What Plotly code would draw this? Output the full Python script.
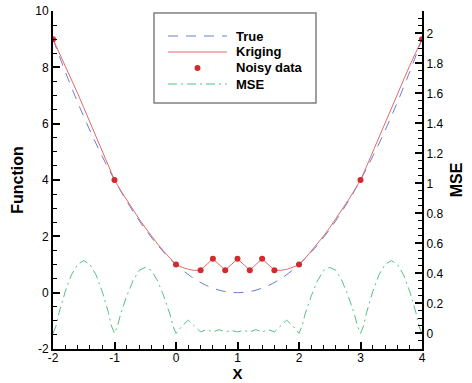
import plotly.graph_objects as go

# ---------------- data ----------------
x_true = [-2.0, -1.75, -1.5, -1.25, -1.0, -0.75, -0.5, -0.25, 0.0, 0.25, 0.5, 0.75, 1.0,
          1.25, 1.5, 1.75, 2.0, 2.25, 2.5, 2.75, 3.0, 3.25, 3.5, 3.75, 4.0]
y_true = [9.0, 7.5625, 6.25, 5.0625, 4.0, 3.0625, 2.25, 1.5625, 1.0, 0.5625, 0.25, 0.0625, 0.0,
          0.0625, 0.25, 0.5625, 1.0, 1.5625, 2.25, 3.0625, 4.0, 5.0625, 6.25, 7.5625, 9.0]

x_krig = [-2.0, -1.9, -1.8, -1.7, -1.6, -1.5, -1.4, -1.3, -1.2, -1.1,
          -1.0, -0.9, -0.8, -0.7, -0.6, -0.5, -0.4, -0.3, -0.2, -0.1,
          0.0, 0.1, 0.2, 0.3, 0.4, 0.6, 0.8, 1.0, 1.2, 1.4, 1.6, 1.7, 1.8, 1.9,
          2.0, 2.1, 2.2, 2.3, 2.4, 2.5, 2.6, 2.7, 2.8, 2.9,
          3.0, 3.1, 3.2, 3.3, 3.4, 3.5, 3.6, 3.7, 3.8, 3.9, 4.0]
y_krig = [9.0, 8.53, 8.06, 7.57, 7.08, 6.57, 6.05, 5.52, 5.00, 4.49,
          4.0, 3.63, 3.28, 2.94, 2.62, 2.31, 2.01, 1.73, 1.47, 1.22,
          1.0, 0.90, 0.83, 0.79, 0.8, 1.2, 0.8, 1.2, 0.8, 1.2, 0.8, 0.79, 0.83, 0.90,
          1.0, 1.22, 1.47, 1.73, 2.01, 2.31, 2.62, 2.94, 3.28, 3.63,
          4.0, 4.49, 5.00, 5.52, 6.05, 6.57, 7.08, 7.57, 8.06, 8.53, 9.0]

x_data = [-2.0, -1.0, 0.0, 0.4, 0.6, 0.8, 1.0, 1.2, 1.4, 1.6, 2.0, 3.0, 4.0]
y_data = [9.0, 4.0, 1.0, 0.8, 1.2, 0.8, 1.2, 0.8, 1.2, 0.8, 1.0, 4.0, 9.0]

x_mse = [-2.0, -1.95, -1.9, -1.8, -1.7, -1.6, -1.5, -1.4, -1.3, -1.2, -1.1, -1.05,
         -1.0, -0.95, -0.9, -0.8, -0.7, -0.6, -0.5, -0.4, -0.3, -0.2, -0.1, -0.05,
         0.0, 0.1, 0.2, 0.3, 0.4, 0.5, 0.6, 0.7, 0.8, 0.9, 1.0, 1.1, 1.2, 1.3, 1.4, 1.5,
         1.6, 1.7, 1.8, 1.9, 2.0,
         2.05, 2.1, 2.2, 2.3, 2.4, 2.5, 2.6, 2.7, 2.8, 2.9, 2.95,
         3.0, 3.05, 3.1, 3.2, 3.3, 3.4, 3.5, 3.6, 3.7, 3.8, 3.9, 3.95, 4.0]
y_mse = [0.0, 0.05, 0.14, 0.28, 0.39, 0.46, 0.485, 0.46, 0.39, 0.28, 0.14, 0.05,
         0.0, 0.05, 0.13, 0.25, 0.35, 0.42, 0.44, 0.42, 0.35, 0.25, 0.13, 0.05,
         0.0, 0.05, 0.088, 0.05, 0.01, 0.025, 0.01, 0.025, 0.01, 0.02, 0.01, 0.02, 0.01, 0.025, 0.01, 0.025,
         0.01, 0.05, 0.088, 0.05, 0.0,
         0.05, 0.13, 0.25, 0.35, 0.42, 0.44, 0.42, 0.35, 0.25, 0.13, 0.05,
         0.0, 0.05, 0.14, 0.28, 0.39, 0.46, 0.485, 0.46, 0.39, 0.28, 0.14, 0.05, 0.0]

x_ticks = [-2, -1, 0, 1, 2, 3, 4]
x_ticktext = ["-2", "-1", "0", "1", "2", "3", "4"]
y_ticks = [-2, 0, 2, 4, 6, 8, 10]
y_ticktext = ["-2", "0", "2", "4", "6", "8", "10"]
y2_ticks = [0, 0.2, 0.4, 0.6, 0.8, 1.0, 1.2, 1.4, 1.6, 1.8, 2.0]
y2_ticktext = ["0", "0.2", "0.4", "0.6", "0.8", "1", "1.2", "1.4", "1.6", "1.8", "2"]

legend_names = ["True", "Kriging", "Noisy data", "MSE"]

FONT = "Liberation Sans, Arial, sans-serif"
C_TRUE, C_KRIG, C_DATA, C_MSE = "#6b7fd0", "#e46a6a", "#d12a2f", "#55c084"
D_TRUE, D_MSE = "10px,8px", "9px,4px,2px,4px"

fig = go.Figure()
fig.add_trace(go.Scatter(x=x_true, y=y_true, mode="lines", name=legend_names[0],
                         line=dict(color=C_TRUE, width=1, dash=D_TRUE, shape="spline")))
fig.add_trace(go.Scatter(x=x_krig, y=y_krig, mode="lines", name=legend_names[1],
                         line=dict(color=C_KRIG, width=1)))
fig.add_trace(go.Scatter(x=x_data, y=y_data, mode="markers", name=legend_names[2],
                         marker=dict(color=C_DATA, size=6)))
fig.add_trace(go.Scatter(x=x_mse, y=y_mse, mode="lines", name=legend_names[3], yaxis="y2",
                         line=dict(color=C_MSE, width=1, dash=D_MSE)))

axis_common = dict(showgrid=False, zeroline=False, showline=True, linecolor="black", linewidth=2,
                   ticks="inside", ticklen=7, tickwidth=2, tickcolor="black", automargin=False,
                   tickfont=dict(family=FONT, size=12, color="black"))

# ---- legend box (drawn in paper coordinates) ----
bx0, bx1, by0, by1 = 0.2737, 0.7127, 0.7278, 0.9941
sx0, sx1, tx = 0.3117, 0.4715, 0.4905
rows = [0.9260, 0.8787, 0.8314, 0.7840]
shapes = [dict(type="rect", xref="paper", yref="paper", x0=bx0, x1=bx1, y0=by0, y1=by1,
               line=dict(color="#808080", width=1.5), fillcolor="white", layer="above")]
shapes.append(dict(type="line", xref="paper", yref="paper", x0=sx0, x1=sx1, y0=rows[0], y1=rows[0],
                   line=dict(color=C_TRUE, width=1, dash=D_TRUE), layer="above"))
shapes.append(dict(type="line", xref="paper", yref="paper", x0=sx0, x1=sx1, y0=rows[1], y1=rows[1],
                   line=dict(color=C_KRIG, width=1), layer="above"))
cx = (sx0 + sx1) / 2
shapes.append(dict(type="circle", xref="paper", yref="paper", x0=cx - 0.0081, x1=cx + 0.0081,
                   y0=rows[2] - 0.0089, y1=rows[2] + 0.0089,
                   line=dict(color=C_DATA, width=0), fillcolor=C_DATA, layer="above"))
shapes.append(dict(type="line", xref="paper", yref="paper", x0=sx0, x1=sx1, y0=rows[3], y1=rows[3],
                   line=dict(color=C_MSE, width=1, dash=D_MSE), layer="above"))
annotations = [dict(xref="paper", yref="paper", x=tx, y=yy, xanchor="left", yanchor="middle",
                    text="<b>%s</b>" % nm, showarrow=False,
                    font=dict(family=FONT, size=13, color="black"))
               for nm, yy in zip(legend_names, rows)]

fig.update_layout(
    width=472, height=383,
    margin=dict(l=53, r=50, t=11, b=34),
    paper_bgcolor="white", plot_bgcolor="white",
    font=dict(family=FONT, color="black"),
    xaxis=dict(range=[-2, 4], tickvals=x_ticks, ticktext=x_ticktext,
               minor=dict(dtick=0.2, ticks="inside", ticklen=4, tickwidth=1, tickcolor="black"),
               ticklabelstandoff=-3,
               title=dict(text="<b>X</b>", font=dict(family=FONT, size=15), standoff=0),
               **axis_common),
    yaxis=dict(range=[-2, 10], tickvals=y_ticks, ticktext=y_ticktext,
               minor=dict(dtick=0.5, ticks="inside", ticklen=4, tickwidth=1, tickcolor="black"),
               title=dict(text="<b>Function</b>", font=dict(family=FONT, size=16), standoff=8),
               **axis_common),
    yaxis2=dict(range=[-0.104, 2.149], overlaying="y", side="right",
                tickvals=y2_ticks, ticktext=y2_ticktext,
                minor=dict(dtick=0.05, ticks="inside", ticklen=4, tickwidth=1, tickcolor="black"),
                title=dict(text="<b>MSE</b>", font=dict(family=FONT, size=16), standoff=8),
                **axis_common),
    shapes=shapes,
    annotations=annotations,
    showlegend=False,
)

fig.write_html("out.html")
